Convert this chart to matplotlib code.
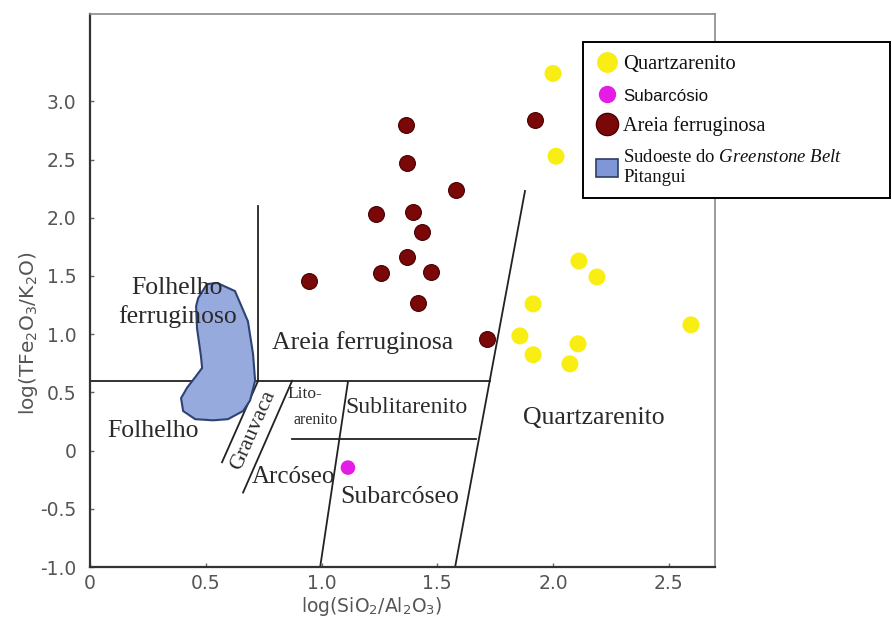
import matplotlib
matplotlib.use('Agg')
import matplotlib.pyplot as plt
from matplotlib.lines import Line2D
from matplotlib.patches import Polygon, Patch

plt.rcParams['mathtext.fontset'] = 'custom'
plt.rcParams['mathtext.rm'] = 'DejaVu Sans'
plt.rcParams['mathtext.it'] = 'Liberation Serif:italic'
plt.rcParams['mathtext.bf'] = 'DejaVu Sans:bold'

# ---------------- data ----------------
quartz_x = [2.000, 2.013, 2.112, 2.190, 1.914, 1.857, 1.914, 2.108, 2.073, 2.596]
quartz_y = [3.239, 2.528, 1.628, 1.491, 1.260, 0.985, 0.823, 0.917, 0.745, 1.080]

ferr_x = [1.365, 1.922, 1.369, 1.581, 1.235, 1.395, 1.434, 1.369, 1.257, 1.473, 0.946, 1.417, 1.715]
ferr_y = [2.793, 2.836, 2.468, 2.237, 2.031, 2.048, 1.877, 1.662, 1.525, 1.534, 1.457, 1.268, 0.960]

subarc_x = [1.114]
subarc_y = [-0.146]

# outline of the Sudoeste do Greenstone Belt Pitangui field
blob_x = [0.549, 0.626, 0.682, 0.704, 0.713, 0.691, 0.661, 0.596, 0.531, 0.454, 0.402,
          0.393, 0.419, 0.454, 0.484, 0.479, 0.462, 0.458, 0.467, 0.505]
blob_y = [1.44, 1.37, 1.11, 0.83, 0.60, 0.43, 0.34, 0.27, 0.26, 0.27, 0.34,
          0.45, 0.54, 0.63, 0.71, 0.81, 1.05, 1.24, 1.31, 1.43]

# classification boundaries (Herron 1988)
boundaries = {
    'shale_sand':     ([0.0, 1.726], [0.60, 0.60]),
    'fe_shale_sand':  ([0.726, 0.726], [0.60, 2.10]),
    'quartz':         ([1.577, 1.879], [-1.0, 2.23]),
    'sub_split':      ([0.994, 1.114], [-1.0, 0.59]),
    'lith_ark':       ([0.873, 1.667], [0.103, 0.103]),
    'wacke_left':     ([0.570, 0.726], [-0.10, 0.60]),
    'wacke_right':    ([0.661, 0.873], [-0.36, 0.60]),
}

x_ticks = [0, 0.5, 1.0, 1.5, 2.0, 2.5]
x_ticklabels = ['0', '0.5', '1.0', '1.5', '2.0', '2.5']
y_ticks = [-1.0, -0.5, 0, 0.5, 1.0, 1.5, 2.0, 2.5, 3.0]
y_ticklabels = ['-1.0', '-0.5', '0', '0.5', '1.0', '1.5', '2.0', '2.5', '3.0']

# ---------------- figure ----------------
fig = plt.figure(figsize=(8.92, 6.24), dpi=100)
ax = fig.add_axes([0.101, 0.0913, 0.7006, 0.8863])
ax.set_xlim(0, 2.7)
ax.set_ylim(-1.0, 3.75)

for key, (xs, ys) in boundaries.items():
    ax.plot(xs, ys, color='#222222', lw=1.3, zorder=2)

ax.add_patch(Polygon(list(zip(blob_x, blob_y)), closed=True, facecolor='#97AADD',
                     edgecolor='#2E4373', lw=1.5, zorder=3))

ax.scatter(quartz_x, quartz_y, s=150, color='#F8EE14', edgecolors='none', zorder=4)
ax.scatter(ferr_x, ferr_y, s=130, color='#7A0808', edgecolors='#4A0000', lw=0.8, zorder=4)
ax.scatter(subarc_x, subarc_y, s=110, color='#E51CE5', edgecolors='none', zorder=4)

serif = 'Liberation Serif'
tc = '#2a2a2a'
kw = dict(family=serif, color=tc, ha='center', va='center', zorder=3.5)
ax.text(0.376, 1.40, 'Folhelho', fontsize=18.5, **kw)
ax.text(0.376, 1.15, 'ferruginoso', fontsize=18.5, **kw)
ax.text(1.179, 0.925, 'Areia ferruginosa', fontsize=18.5, **kw)
ax.text(0.272, 0.17, 'Folhelho', fontsize=18.5, **kw)
ax.text(0.853, 0.49, 'Lito-', fontsize=12.5, family=serif, color=tc, ha='left', va='center')
ax.text(0.975, 0.26, 'arenito', fontsize=11.5, **kw)
ax.text(1.369, 0.368, 'Sublitarenito', fontsize=17, **kw)
ax.text(2.177, 0.283, 'Quartzarenito', fontsize=18.5, **kw)
ax.text(0.877, -0.23, 'Arcóseo', fontsize=18, **kw)
ax.text(1.339, -0.40, 'Subarcóseo', fontsize=18.5, **kw)
ax.text(0.704, 0.171, 'Grauvaca', fontsize=16, family=serif, color=tc, ha='center', va='center',
        rotation=66, rotation_mode='anchor')

# axes styling
for s in ['top', 'right']:
    ax.spines[s].set_color('#8a8a8a')
    ax.spines[s].set_linewidth(1.2)
for s in ['left', 'bottom']:
    ax.spines[s].set_color('#333333')
    ax.spines[s].set_linewidth(1.6)

ax.set_xticks(x_ticks)
ax.set_xticklabels(x_ticklabels)
ax.set_yticks(y_ticks)
ax.set_yticklabels(y_ticklabels)
ax.tick_params(direction='in', length=3, width=1, colors='#666666', labelsize=13.5,
               labelcolor='#555555')
ax.tick_params(axis='x', pad=5)
ax.tick_params(axis='y', pad=10)
for lab in ax.get_xticklabels() + ax.get_yticklabels():
    lab.set_family('DejaVu Sans')

ax.set_xlabel('log(SiO$_2$/Al$_2$O$_3$)', fontsize=13.5, color='#555555', family='DejaVu Sans')
ax.set_ylabel('log(TFe$_2$O$_3$/K$_2$O)', fontsize=14.5, color='#555555', family='DejaVu Sans')
ax.xaxis.set_label_coords((372 - 90) / 625, -(606 - 567) / 553)
ax.yaxis.set_label_coords(-(90 - 28) / 625, (567 - 333) / 553)
ax.xaxis.label.set_va('center')
ax.yaxis.label.set_va('center')

# legend
handles = [
    Line2D([], [], ls='none', marker='o', markersize=15, markerfacecolor='#F8EE14', markeredgecolor='none'),
    Line2D([], [], ls='none', marker='o', markersize=12.5, markerfacecolor='#E51CE5', markeredgecolor='none'),
    Line2D([], [], ls='none', marker='o', markersize=16, markerfacecolor='#7A0808', markeredgecolor='#4A0000'),
    Patch(facecolor='#7F97D6', edgecolor='#2E3E66', lw=1.2),
]
labels = ['Quartzarenito', 'Subarcósio', 'Areia ferruginosa',
          'Sudoeste do $\\mathit{Greenstone\\ Belt}$\nPitangui']
leg = ax.legend(handles, labels, loc='upper left',
                bbox_to_anchor=(583 / 892, (624 - 203) / 624, 307 / 892, 161 / 624),
                bbox_transform=fig.transFigure, mode='expand', borderaxespad=0,
                fancybox=False, framealpha=1, edgecolor='black', fontsize=12,
                handlelength=1.35, handleheight=1.25, handletextpad=0.3,
                labelspacing=0.75, borderpad=0.75)
leg.get_frame().set_linewidth(1.4)
fonts = [(serif, 14.8), ('Liberation Sans', 12.2), (serif, 14.6), (serif, 13.5)]
for t, (fam, sz) in zip(leg.get_texts(), fonts):
    t.set_family(fam)
    t.set_fontsize(sz)
    t.set_color('#111111')

fig.savefig('out.png', dpi=100)
